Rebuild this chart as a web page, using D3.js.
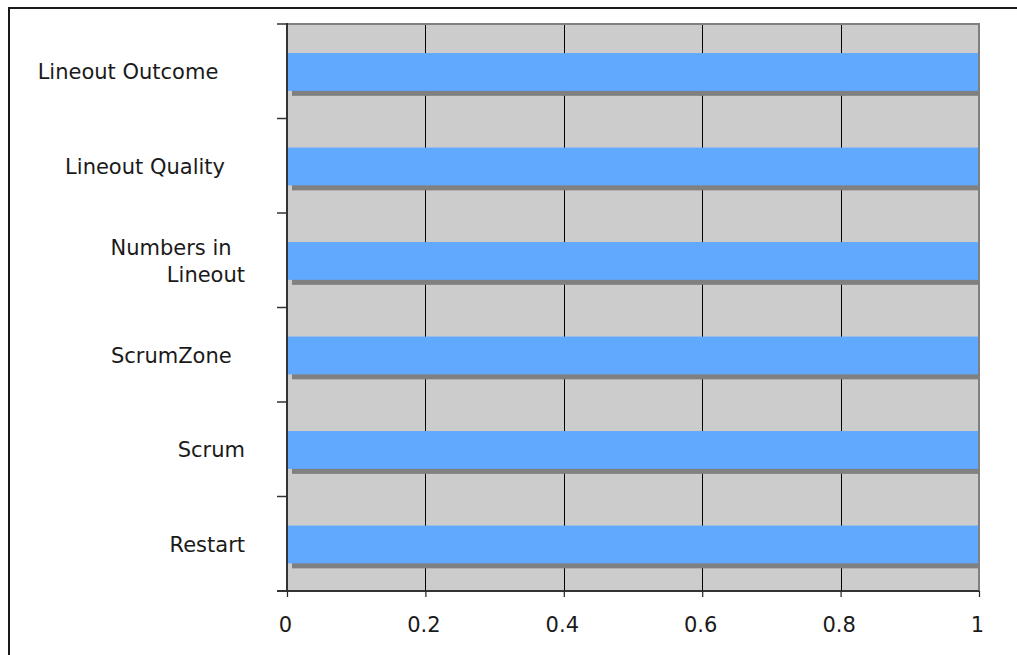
<!DOCTYPE html>
<html>
<head>
<meta charset="utf-8">
<script src="https://cdn.jsdelivr.net/npm/d3@7/dist/d3.min.js"></script>
<style>
  html, body { margin: 0; padding: 0; background: #fff; }
  svg { display: block; }
  text { font-family: "DejaVu Sans", Verdana, sans-serif; fill: #1a1a1a; }
</style>
</head>
<body>
<svg id="chart" width="1017" height="655"></svg>
<script>
// Categories top to bottom (trailing spaces are part of the source labels)
const categories = [
  "Lineout Outcome    ",
  "Lineout Quality   ",
  "Numbers in  \nLineout",
  "ScrumZone  ",
  "Scrum",
  "Restart"
];
const values = [1, 1, 1, 1, 1, 1];
const xTicks = [0, 0.2, 0.4, 0.6, 0.8, 1];

const svg = d3.select("#chart");
const W = 1017, H = 655;
const plot = { left: 287, right: 979, top: 24, bottom: 591 };

// Outer chart frame (extends past the right and bottom edges)
svg.append("rect")
  .attr("x", 9).attr("y", 8)
  .attr("width", W + 40).attr("height", H + 40)
  .attr("fill", "none").attr("stroke", "#1a1a1a").attr("stroke-width", 2);

const x = d3.scaleLinear().domain([0, 1]).range([plot.left, plot.right]);
const y = d3.scaleBand().domain(categories)
  .range([plot.top + 0.7, plot.bottom + 0.7])
  .paddingInner(0.6).paddingOuter(0.3);
const step = (plot.bottom - plot.top) / categories.length;

// Plot area background
svg.append("rect")
  .attr("x", plot.left).attr("y", plot.top)
  .attr("width", plot.right - plot.left).attr("height", plot.bottom - plot.top)
  .attr("fill", "#cccccc");

// Vertical gridlines
svg.append("g").selectAll("line")
  .data(xTicks.filter(t => t > 0 && t < 1))
  .join("line")
  .attr("x1", d => Math.round(x(d)) + 0.5).attr("x2", d => Math.round(x(d)) + 0.5)
  .attr("y1", plot.top).attr("y2", plot.bottom)
  .attr("stroke", "#000").attr("stroke-width", 1);

// Clip so bar shadows stay inside the plot area
svg.append("clipPath").attr("id", "plotClip")
  .append("rect")
  .attr("x", plot.left).attr("y", plot.top)
  .attr("width", plot.right - plot.left).attr("height", plot.bottom - plot.top);

const bars = svg.append("g").attr("clip-path", "url(#plotClip)");

// Bar shadows
bars.selectAll("rect.shadow")
  .data(values)
  .join("rect")
  .attr("class", "shadow")
  .attr("x", x(0) + 5)
  .attr("y", (d, i) => y(categories[i]) + 5)
  .attr("width", d => x(d) - x(0))
  .attr("height", y.bandwidth())
  .attr("fill", "#808080");

// Bars
bars.selectAll("rect.bar")
  .data(values)
  .join("rect")
  .attr("class", "bar")
  .attr("x", x(0))
  .attr("y", (d, i) => y(categories[i]))
  .attr("width", d => x(d) - x(0))
  .attr("height", y.bandwidth())
  .attr("fill", "#61a8ff");

// Plot border: top and right in gray
svg.append("path")
  .attr("d", `M${plot.left},${plot.top} H${plot.right} V${plot.bottom}`)
  .attr("fill", "none").attr("stroke", "#808080").attr("stroke-width", 2);

// Category axis (ticks between categories)
const yTickPos = d3.range(categories.length + 1).map(i => plot.top + i * step);
svg.append("g").selectAll("line")
  .data(yTickPos)
  .join("line")
  .attr("x1", plot.left - 10).attr("x2", plot.left)
  .attr("y1", d => d).attr("y2", d => d)
  .attr("stroke", "#333").attr("stroke-width", 1.5);
svg.append("line")
  .attr("x1", plot.left).attr("x2", plot.left)
  .attr("y1", plot.top - 1).attr("y2", plot.bottom + 1)
  .attr("stroke", "#333").attr("stroke-width", 2);

// Value axis
const xAxis = d3.axisBottom(x).tickValues(xTicks)
  .tickSize(6).tickPadding(20).tickFormat(d3.format("~g"));
const gx = svg.append("g")
  .attr("transform", `translate(0,${plot.bottom})`)
  .call(xAxis);
gx.select(".domain")
  .attr("d", `M${plot.left - 10},0 H${plot.right}`)
  .attr("stroke", "#333").attr("stroke-width", 2);
gx.selectAll(".tick line").attr("stroke", "#222").attr("stroke-width", 1.2);
gx.selectAll(".tick text")
  .attr("font-family", "DejaVu Sans, Verdana, sans-serif")
  .attr("font-size", 21).attr("fill", "#1a1a1a").attr("dx", -2);

// Category labels, right aligned, multi-line where the label has a break
const labelX = 245;
const lineH = 27;
const labels = svg.append("g")
  .attr("font-size", 21)
  .style("white-space", "pre");
categories.forEach((c, i) => {
  const lines = c.split("\n");
  const cy = plot.top + (i + 0.5) * step;
  const first = cy - (lines.length - 1) * lineH / 2 + 8;
  const t = labels.append("text")
    .attr("text-anchor", "end")
    .attr("xml:space", "preserve");
  lines.forEach((ln, k) => {
    t.append("tspan")
      .attr("x", labelX)
      .attr("y", first + k * lineH)
      .text(ln);
  });
});
</script>
</body>
</html>
